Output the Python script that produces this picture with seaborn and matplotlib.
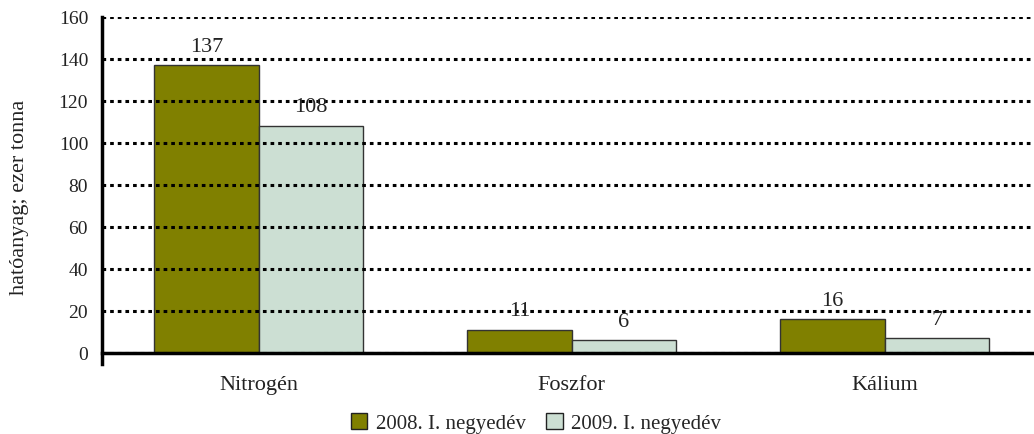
import matplotlib
matplotlib.use("Agg")
import matplotlib.pyplot as plt
import seaborn as sns
import pandas as pd
from matplotlib.patches import Patch

categories = ["Nitrogén", "Foszfor", "Kálium"]
series_names = ["2008. I. negyedév", "2009. I. negyedév"]
values_2008 = [137, 11, 16]
values_2009 = [108, 6, 7]
colors = ["#808000", "#CCDFD3"]

df = pd.DataFrame({
    "cat": categories * 2,
    "series": [series_names[0]] * 3 + [series_names[1]] * 3,
    "value": values_2008 + values_2009,
})

sns.set_theme(style="white")
plt.rcParams["font.family"] = ["Liberation Serif", "DejaVu Serif"]

fig = plt.figure(figsize=(10.34, 4.35), dpi=100)
ax = fig.add_axes([102 / 1034, 1 - 354 / 435, (1041 - 102) / 1034, (354 - 18) / 435])

sns.barplot(data=df, x="cat", y="value", hue="series", palette=colors,
            saturation=1, width=0.667, gap=0, edgecolor="#333333", linewidth=1.0,
            ax=ax, legend=False, zorder=2)

for cont in ax.containers:
    ax.bar_label(cont, labels=[f"{v:g}" for v in cont.datavalues], padding=7,
                 fontsize=16, color="#222222")

ax.set_ylim(0, 160)
ax.set_yticks(range(0, 161, 20))
ax.set_xlim(-0.5, 2.5)
ax.set_xticks([0, 1, 2])
ax.set_xticklabels(categories, fontsize=16)
ax.tick_params(axis="x", length=0, pad=16)
ax.set_xticks([0.5, 1.5], minor=True)
ax.tick_params(axis="x", which="minor", length=8, width=2.5, color="black", direction="out")
ax.tick_params(axis="y", length=6, width=2.5, color="black", direction="out", labelsize=14, pad=4)
for t in ax.get_yticklabels():
    t.set_color("#222222")
for t in ax.get_xticklabels():
    t.set_color("#222222")

ax.yaxis.grid(True, linestyle=(0, (1.2, 1.3)), color="black", linewidth=2.2, zorder=3)
ax.set_axisbelow(False)
for sp in ["top", "right"]:
    ax.spines[sp].set_visible(False)
for sp in ["left", "bottom"]:
    ax.spines[sp].set_color("black")
    ax.spines[sp].set_linewidth(2.5)
ax.spines["left"].set_bounds(-5, 160)
ax.set_ylabel("hatóanyag; ezer tonna", fontsize=16, color="#222222", va="center")
ax.yaxis.set_label_coords((20 - 102) / 939, (354 - 197.5) / 336)
ax.set_xlabel("")

handles = [Patch(facecolor=c, edgecolor="#222222", linewidth=1.0) for c in colors]
fig.legend(handles, series_names, loc="center", bbox_to_anchor=(536 / 1034, 1 - 424 / 435),
           ncol=2, frameon=False, fontsize=15, handlelength=0.8, handleheight=0.8,
           handletextpad=0.4, columnspacing=1.0, borderpad=0)

fig.savefig("out.png", dpi=100)
